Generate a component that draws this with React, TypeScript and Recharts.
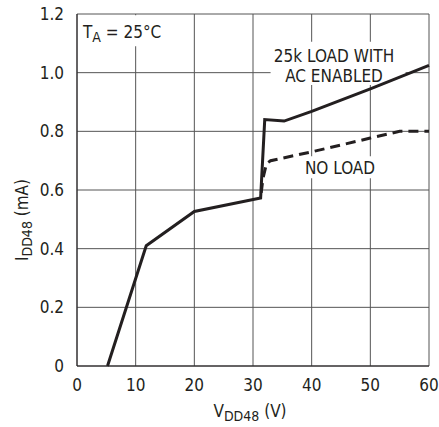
import {
  CartesianGrid,
  Line,
  LineChart,
  ReferenceArea,
  XAxis,
  YAxis,
} from "recharts";

const voltsLoad = [5.2, 11.8, 20, 31.3, 32, 35.3, 40, 50, 60];
const currentLoad = [0, 0.41, 0.527, 0.573, 0.84, 0.835, 0.868, 0.945, 1.025];
const voltsNoLoad = [31.4, 31.7, 32.3, 33, 40, 50, 55, 60];
const currentNoLoad = [0.59, 0.64, 0.69, 0.7, 0.73, 0.777, 0.8, 0.8];
const xTicks = [0, 10, 20, 30, 40, 50, 60];
const yTicks = [0, 0.2, 0.4, 0.6, 0.8, 1.0, 1.2];

const loadData = voltsLoad.map((x, i) => ({ x, y: currentLoad[i] }));
const noLoadData = voltsNoLoad.map((x, i) => ({ x, y: currentNoLoad[i] }));

const INK = "#231f20";
const FONT = "'Liberation Sans Narrow', 'DejaVu Sans Condensed', 'Roboto', sans-serif";

export default function App() {
  return (
    <div style={{ position: "relative", width: 439, height: 427, fontFamily: FONT }}>
      <style>{"body{margin:0;background:#fff}"}</style>
      <LineChart
        width={439}
        height={427}
        margin={{ top: 14, right: 10, bottom: 0, left: 0 }}
      >
        <CartesianGrid stroke="#555" strokeWidth={1} horizontalValues={yTicks} verticalValues={xTicks} />
        <XAxis
          type="number"
          dataKey="x"
          domain={[0, 60]}
          ticks={xTicks}
          height={61}
          tickLine={false}
          tickSize={0}
          tickMargin={13}
          stroke={INK}
          tick={{ fill: INK, fontSize: 17, fontFamily: FONT }}
          interval={0}
        />
        <YAxis
          type="number"
          domain={[0, 1.2]}
          ticks={yTicks}
          width={77}
          tickLine={false}
          tickSize={0}
          tickMargin={13}
          stroke={INK}
          tick={{ fill: INK, fontSize: 17, fontFamily: FONT }}
          tickFormatter={(v: number) => (v === 0 ? "0" : v.toFixed(1))}
          interval={0}
        />
        <ReferenceArea x1={0.3} x2={14} y1={1.09} y2={1.196} fill="#fff" fillOpacity={1} stroke="none" />
        <ReferenceArea x1={33} x2={56} y1={0.958} y2={1.105} fill="#fff" fillOpacity={1} stroke="none" />
        <ReferenceArea x1={38.5} x2={51.2} y1={0.64} y2={0.715} fill="#fff" fillOpacity={1} stroke="none" />
        <Line
          data={noLoadData}
          dataKey="y"
          type="linear"
          stroke={INK}
          strokeWidth={3}
          strokeDasharray="10 6"
          dot={false}
          isAnimationActive={false}
        />
        <Line
          data={loadData}
          dataKey="y"
          type="linear"
          stroke={INK}
          strokeWidth={3}
          dot={false}
          isAnimationActive={false}
        />
      </LineChart>
      <svg
        width={439}
        height={427}
        style={{ position: "absolute", left: 0, top: 0, pointerEvents: "none" }}
        fontFamily={FONT}
        fill={INK}
      >
        <text x={83} y={38} fontSize={17}>
          T<tspan fontSize={14} dy={4}>A</tspan>
          <tspan dy={-4}> = 25°C</tspan>
        </text>
        <text x={334} y={62} fontSize={17} textAnchor="middle">25k LOAD WITH</text>
        <text x={334} y={82} fontSize={17} textAnchor="middle">AC ENABLED</text>
        <text x={340} y={174} fontSize={17} textAnchor="middle">NO LOAD</text>
        <text x={250} y={417} fontSize={17} textAnchor="middle">
          V<tspan fontSize={14} dy={4}>DD48</tspan>
          <tspan dy={-4}> (V)</tspan>
        </text>
        <text x={28} y={220} fontSize={17} textAnchor="middle" transform="rotate(-90 28 220)">
          I<tspan fontSize={14} dy={4}>DD48</tspan>
          <tspan dy={-4}> (mA)</tspan>
        </text>
      </svg>
    </div>
  );
}
